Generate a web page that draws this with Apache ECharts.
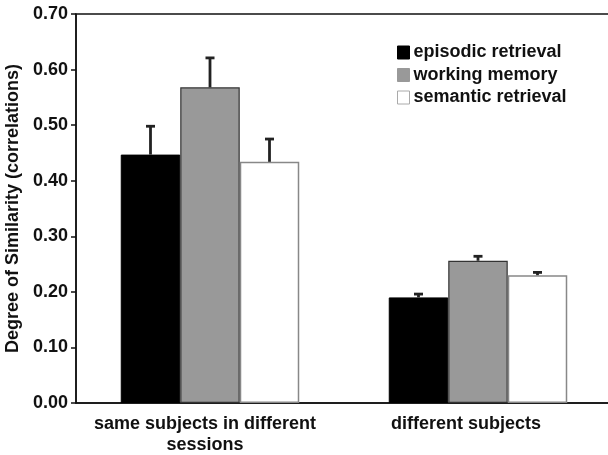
<!DOCTYPE html>
<html>
<head>
<meta charset="utf-8">
<script src="https://cdn.jsdelivr.net/npm/echarts@6/dist/echarts.min.js"></script>
<style>
  html, body { margin: 0; padding: 0; background: #fff; }
  #chart { width: 608px; height: 455px; }
</style>
</head>
<body>
<div id="chart"></div>
<script>
// Groups along the x axis
var categories = ['same subjects in different\nsessions', 'different subjects'];

// Mean similarity per task
var episodic = [0.447, 0.190];
var working = [0.568, 0.256];
var semantic = [0.434, 0.230];

// Upper error (standard error) per task
var episodicErr = [0.051, 0.006];
var workingErr = [0.053, 0.008];
var semanticErr = [0.041, 0.005];

var seriesNames = ['episodic retrieval', 'working memory', 'semantic retrieval'];
var yTicks = [0, 0.1, 0.2, 0.3, 0.4, 0.5, 0.6, 0.7];

var BAR_W = 59.5;
var FONT = '"Liberation Sans", Arial, Helvetica, sans-serif';
// labels sit a little left of the bar-group centres
var LABEL_SHIFT = [10, 24];
// legend swatch outlines
var LEGEND_BORDERS = ['#000', '#999', '#aaa'];

var chart = echarts.init(document.getElementById('chart'), null, { renderer: 'canvas' });

function errorSeries(means, errs, slot) {
  var data = means.map(function (m, i) { return [i, m, m + errs[i]]; });
  return {
    type: 'custom',
    silent: true,
    z: 5,
    data: data,
    encode: { x: 0, y: [1, 2] },
    renderItem: function (params, api) {
      var idx = api.value(0);
      var base = api.coord([idx, api.value(1)]);
      var top = api.coord([idx, api.value(2)]);
      var x = base[0] + (slot - 1) * BAR_W;
      var cap = 4.5;
      var style = { stroke: '#222', lineWidth: 2.8, fill: null };
      return {
        type: 'group',
        children: [
          { type: 'line', shape: { x1: x, y1: base[1], x2: x, y2: top[1] }, style: style },
          { type: 'line', shape: { x1: x - cap, y1: top[1], x2: x + cap, y2: top[1] }, style: style }
        ]
      };
    }
  };
}

chart.setOption({
  animation: false,
  backgroundColor: '#fff',
  grid: {
    left: 76, top: 14, width: 536, height: 389,
    containLabel: false,
    outerBoundsMode: 'none',
    show: true, borderColor: '#111', borderWidth: 1.5, backgroundColor: 'transparent'
  },
  legend: {
    orient: 'vertical',
    left: 397, top: 43.5, padding: 0,
    itemWidth: 12, itemHeight: 13, itemGap: 4.5,
    textStyle: { fontFamily: FONT, fontWeight: 'bold', fontSize: 18, color: '#111', padding: [0, 0, 0, -1] },
    data: seriesNames.map(function (n, i) {
      return { name: n, icon: 'rect', itemStyle: { borderColor: LEGEND_BORDERS[i], borderWidth: 1 } };
    })
  },
  xAxis: {
    type: 'category',
    data: categories.map(function (c, i) {
      return { value: c, textStyle: { padding: [0, LABEL_SHIFT[i], 0, 0] } };
    }),
    axisLine: { lineStyle: { color: '#111', width: 1.5 } },
    axisTick: { show: false },
    axisLabel: {
      fontFamily: FONT, fontWeight: 'bold', fontSize: 18, color: '#111',
      margin: 11, lineHeight: 21, interval: 0
    }
  },
  yAxis: {
    type: 'value',
    min: 0, max: 0.7, interval: 0.1,
    name: 'Degree of Similarity (correlations)',
    nameLocation: 'middle',
    nameGap: 50,
    nameTextStyle: { fontFamily: FONT, fontWeight: 'bold', fontSize: 18, color: '#111' },
    axisLine: { show: true, lineStyle: { color: '#111', width: 1.5 } },
    axisTick: { show: true, length: 5, inside: false, lineStyle: { color: '#111', width: 1.5 } },
    splitLine: { show: false },
    axisLabel: {
      fontFamily: FONT, fontWeight: 'bold', fontSize: 18, color: '#111', margin: 8,
      formatter: function (v) { return yTicks.indexOf(+v.toFixed(1)) >= 0 ? v.toFixed(2) : ''; }
    }
  },
  series: [
    {
      name: seriesNames[0], type: 'bar', data: episodic, barWidth: BAR_W, barGap: '0%',
      itemStyle: { color: '#000', borderColor: '#000', borderWidth: 1 }
    },
    {
      name: seriesNames[1], type: 'bar', data: working, barWidth: BAR_W, barGap: '0%',
      itemStyle: { color: '#999', borderColor: '#333', borderWidth: 1.2 }
    },
    {
      name: seriesNames[2], type: 'bar', data: semantic, barWidth: BAR_W, barGap: '0%',
      itemStyle: { color: '#fff', borderColor: '#888', borderWidth: 1.5 }
    },
    errorSeries(episodic, episodicErr, 0),
    errorSeries(working, workingErr, 1),
    errorSeries(semantic, semanticErr, 2)
  ]
});
</script>
</body>
</html>
